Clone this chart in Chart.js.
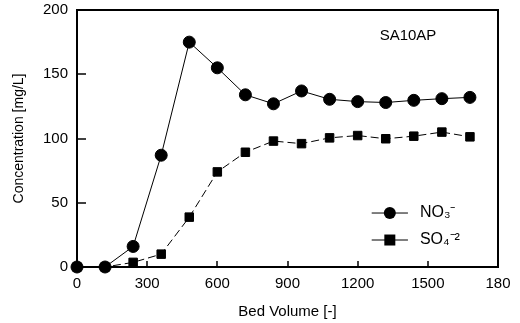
<!DOCTYPE html>
<html><head><meta charset="utf-8">
<script src="https://cdn.jsdelivr.net/npm/chart.js@4/dist/chart.umd.min.js"></script>
<style>html,body{margin:0;padding:0;background:#fff}#wrap{width:520px;height:323px}</style>
</head><body><div id="wrap"><canvas id="c" width="520" height="323"></canvas></div>
<script>
const bedVolume = [0,120,240,360,480,600,720,840,960,1080,1200,1320,1440,1560,1680];
const no3 = [0,0,16,87,175,155,134,127,137,130.5,128.7,128,129.7,131,132];
const so4 = [0,0,3.6,10,38.8,74,89.3,98,96,100.5,102.3,99.8,101.8,105,101.3];
const xTicks = [0,300,600,900,1200,1500,1800];
const xTickLabels = ['0','300','600','900','1200','1500','180'];
const yTicks = [0,50,100,150,200];
const seriesNames = ['NO₃⁻','SO₄⁻²'];
const FONT = "'Liberation Sans', Arial, sans-serif";

const framePlugin = {
  id:'frame',
  afterDraw(chart){
    const {ctx, chartArea:a, scales:{x,y}} = chart;
    ctx.save();
    ctx.strokeStyle='#000';
    ctx.lineWidth=2;
    ctx.strokeRect(a.left,a.top,a.right-a.left,a.bottom-a.top);
    ctx.lineWidth=1.5;
    xTicks.forEach(v=>{const px=Math.round(x.getPixelForValue(v));ctx.beginPath();ctx.moveTo(px,a.bottom);ctx.lineTo(px,a.bottom-6);ctx.stroke();});
    yTicks.forEach(v=>{const py=Math.round(y.getPixelForValue(v));ctx.beginPath();ctx.moveTo(a.left,py);ctx.lineTo(a.left+9,py);ctx.stroke();});
    ctx.fillStyle='#000';
    ctx.font="15px "+FONT;
    ctx.textAlign='center';ctx.textBaseline='middle';
    ctx.fillText('SA10AP', 408, 36);
    const ds = chart.data.datasets;
    const rows=[{yv:42},{yv:21}];
    ds.forEach((d,i)=>{
      const cy = y.getPixelForValue(rows[i].yv);
      const x0 = x.getPixelForValue(1260), x1 = x.getPixelForValue(1415);
      ctx.lineWidth=1;ctx.setLineDash([]);
      ctx.beginPath();ctx.moveTo(x0,cy);ctx.lineTo(x1,cy);ctx.stroke();
      const cx=(x0+x1)/2;
      ctx.beginPath();
      if(d.pointStyle==='circle'){ctx.arc(cx,cy,6,0,Math.PI*2);}else{ctx.rect(cx-5.5,cy-5.5,11,11);}
      ctx.fill();
      ctx.textAlign='left';ctx.font="16px "+FONT;
      ctx.fillText(seriesNames[i], x1+12, cy);
    });
    ctx.restore();
  }
};

new Chart(document.getElementById('c'),{
  type:'line',
  data:{datasets:[
    {label:seriesNames[0],data:bedVolume.map((v,i)=>({x:v,y:no3[i]})),borderColor:'#000',backgroundColor:'#000',borderWidth:1,pointStyle:'circle',pointRadius:6,pointHoverRadius:6,tension:0,clip:false},
    {label:seriesNames[1],data:bedVolume.map((v,i)=>({x:v,y:so4[i]})),borderColor:'#000',backgroundColor:'#000',borderWidth:1,borderDash:[8,4],pointStyle:'rect',pointRadius:6,pointHoverRadius:6,tension:0,clip:false}
  ]},
  options:{
    responsive:false,animation:false,
    layout:{padding:{top:10,right:22,left:0,bottom:0}},
    plugins:{legend:{display:false},tooltip:{enabled:false}},
    scales:{
      x:{type:'linear',min:0,max:1800,
        afterBuildTicks(s){s.ticks=xTicks.map(v=>({value:v}));},
        afterFit(s){s.height=56;s.paddingLeft=0;s.paddingRight=0;},
        grid:{display:false,drawTicks:false},border:{display:false},
        ticks:{padding:8,color:'#000',font:{family:FONT,size:15},maxRotation:0,autoSkip:false,
          callback:(v)=>xTickLabels[xTicks.indexOf(v)]},
        title:{display:true,text:'Bed Volume [-]',color:'#000',font:{family:FONT,size:15},padding:{top:6,bottom:2}}
      },
      y:{type:'linear',min:0,max:200,
        afterBuildTicks(s){s.ticks=yTicks.map(v=>({value:v}));},
        afterFit(s){s.width=77;s.paddingTop=0;s.paddingBottom=0;},
        grid:{display:false,drawTicks:false},border:{display:false},
        ticks:{padding:9,color:'#000',font:{family:FONT,size:15}},
        title:{display:true,text:'Concentration [mg/L]',color:'#000',font:{family:FONT,size:14},padding:{top:11,bottom:6}}
      }
    }
  },
  plugins:[framePlugin]
});
</script></body></html>
